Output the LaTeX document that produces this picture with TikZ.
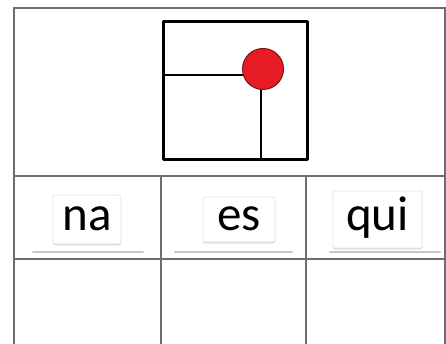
\documentclass[tikz,border=0pt]{standalone}
\usepackage{fontspec}
\setmainfont{Carlito}
\usetikzlibrary{shadows}
\definecolor{grid}{RGB}{110,110,110}
\definecolor{dotred}{RGB}{232,28,36}
\definecolor{dotedge}{RGB}{120,20,20}
\tikzset{
  gridline/.style={draw=grid, line width=1.1pt},
  thick frame/.style={draw=black, line width=3pt, line join=round},
  thinblack/.style={draw=black, line width=1.8pt},
  label box/.style={fill=white, draw=gray!20, line width=0.8pt, rounded corners=2pt, inner sep=0pt,
     font=\fontsize{49}{49}\selectfont, text height=23pt, text depth=0pt,
     drop shadow={shadow xshift=0pt, shadow yshift=-1.5pt, opacity=0.3, fill=gray}},
  underline/.style={draw=gray!45, line width=2pt, line cap=round}
}
\begin{document}
\begin{tikzpicture}[x=1pt,y=1pt]
\useasboundingbox (0,0) rectangle (446,344);
\fill[white] (0,0) rectangle (446,344);
% table
\coordinate (tl) at (14,336);
\coordinate (tr) at (445,336);
\coordinate (bl) at (14,-5);
\coordinate (br) at (445,-5);
\coordinate (r1l) at (14,168);
\coordinate (r1r) at (445,168);
\coordinate (r2l) at (14,85);
\coordinate (r2r) at (445,85);
\coordinate (c1t) at (161,168);
\coordinate (c1b) at (161,-5);
\coordinate (c2t) at (306,168);
\coordinate (c2b) at (306,-5);
\draw[gridline] (bl) -- (tl) -- (tr) -- (br);
\draw[gridline] (r1l) -- (r1r);
\draw[gridline] (r2l) -- (r2r);
\draw[gridline] (c1t) -- (c1b);
\draw[gridline] (c2t) -- (c2b);
% picture
\coordinate (sq1) at (163,184);
\coordinate (sq2) at (307,322);
\coordinate (hl) at (163,269);
\coordinate (hr) at (258,269);
\coordinate (vb) at (261,184);
\coordinate (vt) at (261,270);
\draw[thinblack] (hl) -- (hr);
\draw[thinblack] (vb) -- (vt);
\draw[thick frame] (sq1) rectangle (sq2);
\node[circle, minimum size=41pt, inner sep=0pt, fill=dotred, draw=dotedge, line width=1pt] (dot) at (263,275) {};
% labels
\draw[underline] (33,92) -- (143,92);
\draw[underline] (175,92) -- (292,92);
\draw[underline] (330,92) -- (440,92);
\node[label box, minimum width=68pt, minimum height=49pt] (na) at (87,124.5) {na};
\node[label box, minimum width=72pt, minimum height=45pt] (es) at (239,124.5) {es};
\node[label box, minimum width=89pt, minimum height=57pt] (qui) at (377.5,124.5) {qui};
\end{tikzpicture}
\end{document}
